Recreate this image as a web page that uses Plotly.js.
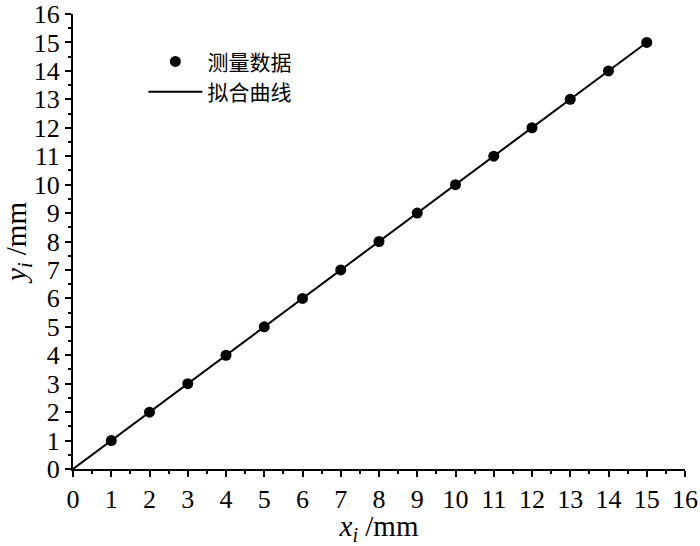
<!DOCTYPE html>
<html><head><meta charset="utf-8">
<script src="https://cdn.plot.ly/plotly-3.0.1.min.js"></script>
<style>body{margin:0;padding:0;}#c{width:700px;height:546px;}</style>
</head><body><div id="c"></div>
<script>
const measX = [1,2,3,4,5,6,7,8,9,10,11,12,13,14,15];
const measY = [1,2,3,4,5,6,7,8,9,10,11,12,13,14,15];
const fitX = [0,15];
const fitY = [0,15];
const tickVals = [0,1,2,3,4,5,6,7,8,9,10,11,12,13,14,15,16];

const serif = 'Liberation Serif';
const data = [
  {x: measX, y: measY, type:'scatter', mode:'markers', name:'测量数据',
   marker:{color:'#000', size:11}, cliponaxis:false},
  {x: fitX, y: fitY, type:'scatter', mode:'lines', name:'拟合曲线',
   line:{color:'#000', width:2}, cliponaxis:false}
];
function mkAxis(title, standoff) {
  return {
    range:[0,16], tickmode:'array', tickvals: tickVals, ticks:'outside', ticklen:6, tickwidth:2, tickcolor:'#000',
    showline:true, linecolor:'#000', linewidth:2, showgrid:false, zeroline:false,
    ticklabeloverflow:'allow',
    tickfont:{family:serif, size:26, color:'#000'},
    minor:{dtick:0.5, ticks:'outside', ticklen:3, tickwidth:2, tickcolor:'#000', showgrid:false},
    title:{text:title, font:{family:serif, size:29, color:'#000'}, standoff:standoff}
  };
}
const layout = {
  width:700, height:546,
  font:{family:serif, size:26, color:'#000'},
  margin:{l:73, r:15, t:14, b:77},
  paper_bgcolor:'#fff', plot_bgcolor:'#fff',
  showlegend:true,
  legend:{x:0.115, y:0.94, xanchor:'left', yanchor:'top', bgcolor:'rgba(0,0,0,0)',
    font:{family:'Noto Sans CJK SC', size:21, color:'#000'}, itemwidth:54, tracegroupgap:0},
  xaxis: mkAxis('<i>x</i><sub><i>i</i></sub> /mm', 9),
  yaxis: mkAxis('<i>y</i><sub><i>i</i></sub> /mm', 6)
};
Plotly.newPlot('c', data, layout, {displayModeBar:false, staticPlot:true});
</script></body></html>
